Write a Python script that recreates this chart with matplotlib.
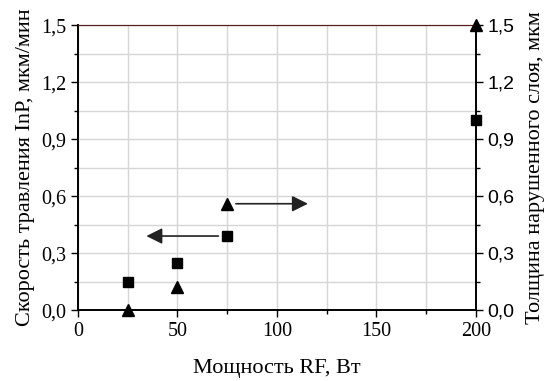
import matplotlib.pyplot as plt
from matplotlib.ticker import MultipleLocator, FuncFormatter

# данные
power = [25, 50, 75, 200]
etch_rate = [0.15, 0.25, 0.39, 1.0]       # квадраты, левая ось
layer_thick = [0.0, 0.12, 0.56, 1.5]      # треугольники, правая ось

serif = 'Liberation Serif'
sans = 'Liberation Sans'

fig = plt.figure(figsize=(5.45, 3.81), dpi=100)
ax = fig.add_axes([0.143, 0.186, 0.73, 0.748])
ax2 = ax.twinx()

comma = FuncFormatter(lambda v, p: f"{v:.1f}".replace('.', ','))

for a in (ax, ax2):
    a.set_xlim(0, 200)
    a.set_ylim(0, 1.5)
    a.yaxis.set_major_locator(MultipleLocator(0.3))
    a.yaxis.set_minor_locator(MultipleLocator(0.15))
    a.yaxis.set_major_formatter(comma)
ax.xaxis.set_major_locator(MultipleLocator(50))
ax.xaxis.set_minor_locator(MultipleLocator(25))

ax.grid(True, which='both', color='#d6d6d6', lw=1.0)
ax.set_axisbelow(True)

ax.tick_params(which='major', direction='out', length=5, width=1, top=False)
ax.tick_params(which='minor', direction='out', length=3, width=1, top=False)
ax2.tick_params(which='major', direction='out', length=5, width=1)
ax2.tick_params(which='minor', direction='out', length=3, width=1)

for lab in ax.get_xticklabels() + ax.get_yticklabels():
    lab.set_fontfamily(serif)
    lab.set_fontsize(14.5)
for lab in ax2.get_yticklabels():
    lab.set_fontfamily(sans)
    lab.set_fontsize(14)

for s in ('left', 'bottom', 'right'):
    ax.spines[s].set_linewidth(1.2)
    ax2.spines[s].set_linewidth(1.2)
ax.spines['top'].set_color('#5a2020')
ax2.spines['top'].set_color('#5a2020')

ax.plot(power, etch_rate, 's', color='black', ms=7.5, clip_on=False, zorder=5)
ax2.plot(power, layer_thick, '^', color='black', ms=8.5, clip_on=False, zorder=5)

# стрелки, указывающие на ось
ax.annotate('', xy=(33, 0.39), xytext=(72, 0.39),
            arrowprops=dict(arrowstyle='-|>', color='#222222', lw=1.2,
                            mutation_scale=24))
ax2.annotate('', xy=(117, 0.56), xytext=(78, 0.56),
             arrowprops=dict(arrowstyle='-|>', color='#222222', lw=1.2,
                             mutation_scale=24))

ax.set_xlabel('Мощность RF, Вт', fontfamily=serif, fontsize=16, va='top')
ax.xaxis.set_label_coords(0.5, -0.17)
ax.set_ylabel('Скорость травления InP, мкм/мин', fontfamily=serif, fontsize=16,
              labelpad=4)
ax2.set_ylabel('Толщина нарушенного слоя, мкм', fontfamily=serif, fontsize=16,
               labelpad=8)

fig.savefig('out.png', dpi=100)
